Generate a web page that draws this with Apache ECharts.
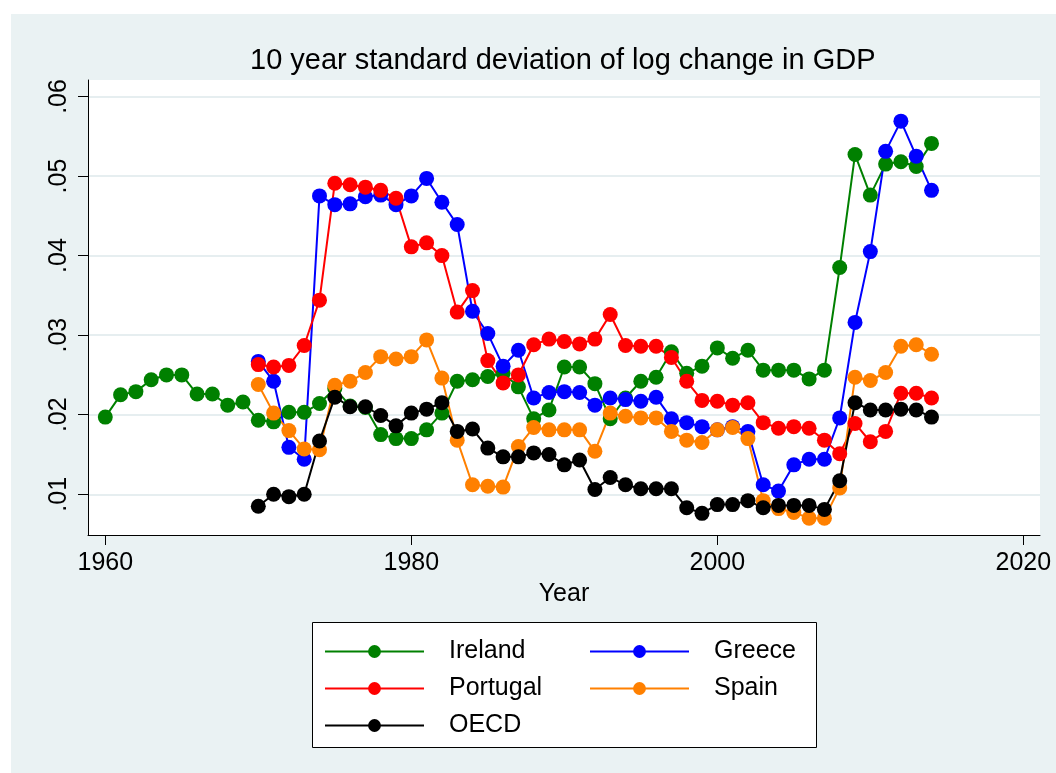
<!DOCTYPE html>
<html>
<head>
<meta charset="utf-8">
<script src="https://cdn.jsdelivr.net/npm/echarts@6/dist/echarts.min.js"></script>
<style>
html,body{margin:0;padding:0;background:#fff;}
#chart{width:1056px;height:773px;}
</style>
</head>
<body>
<div id="chart"></div>
<script>
const irelandYears = [];
for (let y = 1960; y <= 2014; y++) irelandYears.push(y);
const otherYears = [];
for (let y = 1970; y <= 2014; y++) otherYears.push(y);

const ireland = [
  0.0197,0.0225,0.0229,0.0244,0.0250,0.0250,0.0226,0.0226,0.0212,0.0216,
  0.0193,0.0191,0.0203,0.0203,0.0214,0.0233,0.0211,0.0209,0.0175,0.0170,
  0.0170,0.0181,0.0202,0.0242,0.0244,0.0248,0.0252,0.0235,0.0195,0.0206,
  0.0260,0.0260,0.0239,0.0195,0.0221,0.0242,0.0247,0.0279,0.0252,0.0261,
  0.0284,0.0271,0.0281,0.0256,0.0256,0.0256,0.0245,0.0256,0.0385,0.0527,
  0.0476,0.0515,0.0518,0.0512,0.0541
];
const greece = [
  0.0267,0.0242,0.0159,0.0144,0.0475,0.0464,0.0465,0.0474,0.0476,0.0464,
  0.0475,0.0497,0.0467,0.0439,0.0330,0.0302,0.0261,0.0281,0.0221,0.0228,
  0.0229,0.0228,0.0212,0.0221,0.0219,0.0217,0.0222,0.0195,0.0190,0.0185,
  0.0181,0.0185,0.0179,0.0112,0.0104,0.0137,0.0144,0.0144,0.0196,0.0316,
  0.0405,0.0531,0.0569,0.0525,0.0482
];
const portugal = [
  0.0263,0.0260,0.0262,0.0287,0.0344,0.0491,0.0489,0.0486,0.0482,0.0472,
  0.0411,0.0416,0.0400,0.0329,0.0356,0.0268,0.0240,0.0250,0.0288,0.0295,
  0.0292,0.0289,0.0295,0.0326,0.0287,0.0286,0.0286,0.0272,0.0242,0.0218,
  0.0217,0.0212,0.0215,0.0190,0.0183,0.0185,0.0183,0.0168,0.0151,0.0189,
  0.0166,0.0179,0.0227,0.0227,0.0221
];
const spain = [
  0.0238,0.0202,0.0180,0.0157,0.0156,0.0237,0.0242,0.0253,0.0273,0.0270,
  0.0273,0.0294,0.0246,0.0168,0.0112,0.0110,0.0109,0.0160,0.0184,0.0181,
  0.0181,0.0181,0.0154,0.0202,0.0198,0.0196,0.0196,0.0179,0.0168,0.0165,
  0.0181,0.0184,0.0170,0.0092,0.0082,0.0077,0.0070,0.0070,0.0108,0.0247,
  0.0243,0.0253,0.0286,0.0288,0.0276
];
const oecd = [
  0.0085,0.0100,0.0097,0.0100,0.0167,0.0222,0.0210,0.0210,0.0199,0.0186,
  0.0202,0.0207,0.0215,0.0179,0.0182,0.0158,0.0147,0.0147,0.0152,0.0150,
  0.0137,0.0143,0.0106,0.0121,0.0112,0.0107,0.0107,0.0107,0.0083,0.0076,
  0.0087,0.0087,0.0092,0.0083,0.0086,0.0086,0.0086,0.0081,0.0117,0.0215,
  0.0206,0.0206,0.0207,0.0206,0.0197
];

const xTicks = [1960, 1980, 2000, 2020];
const yTicks = [0.01, 0.02, 0.03, 0.04, 0.05, 0.06];

const seriesDefs = [
  {name: 'Ireland', years: irelandYears, values: ireland, color: '#008000'},
  {name: 'Greece', years: otherYears, values: greece, color: '#0000FF'},
  {name: 'Portugal', years: otherYears, values: portugal, color: '#FF0000'},
  {name: 'Spain', years: otherYears, values: spain, color: '#FF8000'},
  {name: 'OECD', years: otherYears, values: oecd, color: '#000000'}
];

const FONT = 'Liberation Sans, Arial, Helvetica, sans-serif';

const chart = echarts.init(document.getElementById('chart'), null, {renderer: 'canvas'});

const legendCommon = {
  orient: 'vertical',
  top: 639,
  padding: 0,
  itemWidth: 99,
  itemHeight: 16,
  itemGap: 12,
  selectedMode: false,
  textStyle: {fontFamily: FONT, fontSize: 25, color: '#000', padding: [0, 0, 0, 20]},
  z: 10
};

chart.setOption({
  backgroundColor: '#EAF2F3',
  animation: false,
  graphic: [
    {type: 'rect', shape: {x: 0, y: 0, width: 1056, height: 14}, style: {fill: '#fff'}, z: -10, silent: true},
    {type: 'rect', shape: {x: 0, y: 0, width: 11, height: 773}, style: {fill: '#fff'}, z: -10, silent: true},
    {type: 'rect', shape: {x: 312.5, y: 622.5, width: 504, height: 125}, style: {fill: '#fff', stroke: '#000', lineWidth: 1}, z: 1, silent: true}
  ],
  title: {
    text: '10 year standard deviation of log change in GDP',
    left: 250,
    top: 46,
    padding: 0,
    textStyle: {fontFamily: FONT, fontSize: 29, fontWeight: 'normal', color: '#000'}
  },
  grid: {
    left: 88, top: 80, width: 952, height: 455,
    show: true, backgroundColor: '#fff', borderWidth: 0,
    containLabel: false
  },
  legend: [
    Object.assign({}, legendCommon, {left: 324, data: ['Ireland', 'Portugal', 'OECD']}),
    Object.assign({}, legendCommon, {left: 589, data: ['Greece', 'Spain']})
  ],
  xAxis: {
    type: 'value',
    min: 1958.87,
    max: 2021.09,
    name: 'Year',
    nameLocation: 'middle',
    nameGap: 47,
    nameTextStyle: {fontFamily: FONT, fontSize: 25, color: '#000'},
    axisLine: {show: true, onZero: false, lineStyle: {color: '#000', width: 1}},
    axisTick: {show: true, length: 10, customValues: xTicks, lineStyle: {color: '#000', width: 1}},
    axisLabel: {show: true, customValues: xTicks, margin: 16, fontFamily: FONT, fontSize: 25, color: '#000',
      formatter: v => String(v)},
    splitLine: {show: false}
  },
  yAxis: {
    type: 'value',
    min: 0.00488,
    max: 0.06207,
    axisLine: {show: true, onZero: false, lineStyle: {color: '#000', width: 1}},
    axisTick: {show: true, length: 10, customValues: yTicks, lineStyle: {color: '#000', width: 1}},
    axisLabel: {show: true, customValues: yTicks, rotate: 90, margin: 16, fontFamily: FONT, fontSize: 25, color: '#000',
      formatter: v => v.toFixed(2).replace(/^0/, '')},
    splitLine: {show: true, customValues: yTicks, lineStyle: {color: '#E6EEF0', width: 2}}
  },
  series: seriesDefs.map(d => ({
    name: d.name,
    type: 'line',
    data: d.years.map((y, i) => [y, d.values[i]]),
    symbol: 'circle',
    symbolSize: 15,
    showAllSymbol: true,
    lineStyle: {color: d.color, width: 2},
    itemStyle: {color: d.color, borderWidth: 0},
    emphasis: {disabled: true},
    z: 3
  }))
});
</script>
</body>
</html>
